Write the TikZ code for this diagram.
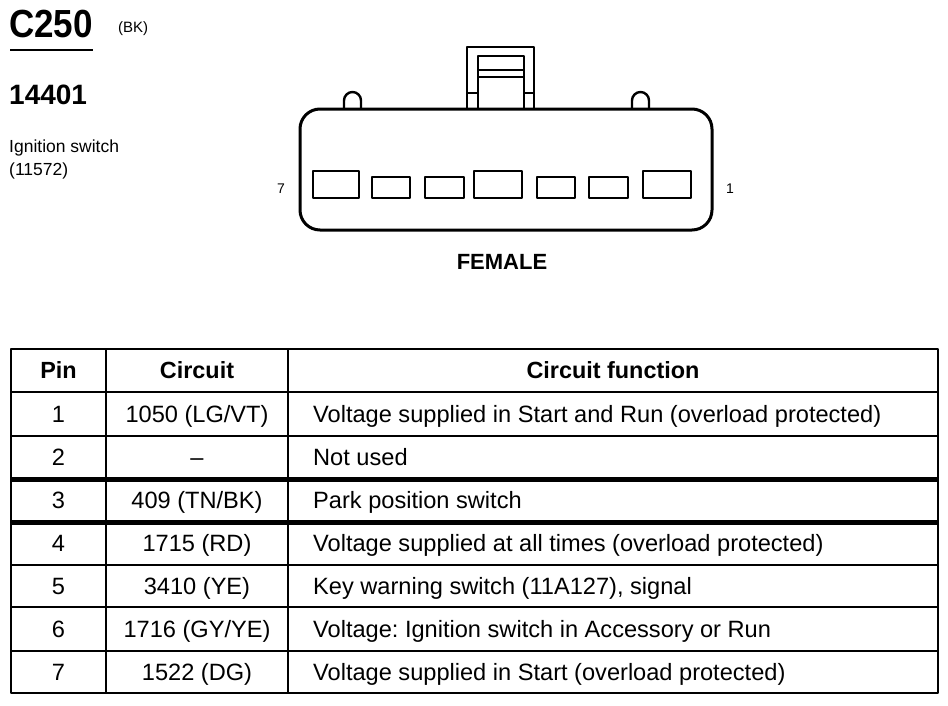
\documentclass[tikz,border=0pt]{standalone}
\usepackage{fontspec}
\setmainfont{Liberation Sans}
\frenchspacing
\begin{document}
\begin{tikzpicture}[x=1pt,y=-1pt,
  line join=round,
  body/.style={line width=3pt},
  latch/.style={line width=2.4pt},
  cavity/.style={line width=2.6pt},
  grid/.style={line width=2.6pt},
  thickgrid/.style={line width=5pt},
  cell/.style={inner sep=0pt, font=\fontsize{23.6}{26}\selectfont, anchor=base},
  head/.style={cell, font=\fontsize{23.4}{26}\selectfont\bfseries},
  lbl/.style={inner sep=0pt, anchor=base west},
  pinno/.style={inner sep=0pt, font=\fontsize{14}{16}\selectfont}]
\useasboundingbox (0,0) rectangle (948,705);
\fill[white] (0,0) rectangle (948,705);

% ---- title block ----
\node[lbl, font=\fontsize{35}{38}\selectfont\bfseries] (c250) at (9,37) {\scalebox{1}[1.12]{C250}};
\node[lbl, font=\fontsize{15}{17}\selectfont] (bk) at (118,32) {(BK)};
\coordinate (ulA) at (10,50);
\coordinate (ulB) at (93,50);
\draw[line width=1.5pt] (ulA) -- (ulB);
\node[lbl, font=\fontsize{28}{32}\selectfont\bfseries] (num) at (9,104) {14401};
\node[lbl, font=\fontsize{17.5}{20}\selectfont] (ign) at (9,152) {Ignition switch};
\node[lbl, font=\fontsize{17.5}{20}\selectfont] (ignno) at (9,175) {(11572)};

% ---- connector face ----
% latch
\draw[latch] (467,109) -- (467,47) -- (534,47) -- (534,109);
\draw[latch] (478,109) -- (478,56) -- (524,56) -- (524,109);
\draw[latch] (478,70) -- (524,70);
\draw[latch] (478,77) -- (524,77);
\draw[latch] (467,93) -- (478,93);
\draw[latch] (524,93) -- (534,93);
% bumps
\draw[latch] (344,109) -- (344,100.5) arc[start angle=180,end angle=360,radius=8.5] -- (361,109);
\draw[latch] (632,109) -- (632,100.5) arc[start angle=180,end angle=360,radius=8.5] -- (649,109);
% body
\node[draw, body, fill=white, rounded corners=20pt, minimum width=412pt, minimum height=121pt, inner sep=0pt] (housing) at (506,169.5) {};
% cavities
\draw[cavity] (313,171) rectangle (359,198);
\draw[cavity] (372,177) rectangle (410,198);
\draw[cavity] (425,177) rectangle (464,198);
\draw[cavity] (474,171) rectangle (522,198);
\draw[cavity] (537,177) rectangle (575,198);
\draw[cavity] (589,177) rectangle (628,198);
\draw[cavity] (643,171) rectangle (691,198);
\node[pinno] (p7) at (281,189) {7};
\node[pinno] (p1) at (730,189) {1};
\node[inner sep=0pt, font=\fontsize{22}{24}\selectfont\bfseries] (fem) at (502,262) {FEMALE};

% ---- table ----
\draw[grid] (11,349) rectangle (938,693);
\foreach \yy in {392,436,565,607,651} \draw[grid] (11,\yy) -- (938,\yy);
\foreach \yy in {479,522} \draw[thickgrid] (11,\yy) -- (938,\yy);
\draw[grid] (106,349) -- (106,693);
\draw[grid] (288,349) -- (288,693);

\node[head] (hpin) at (58.5,378.5) {Pin};
\node[head] (hcir) at (197,378.5) {Circuit};
\node[head] (hfun) at (613,378.5) {Circuit function};

\node[cell] (r1a) at (58.5,422) {1};
\node[cell] (r1b) at (197,422) {1050 (LG/VT)};
\node[cell, anchor=base west] (r1c) at (313,422) {Voltage supplied in Start and Run (overload protected)};

\node[cell] (r2a) at (58.5,465) {2};
\node[cell] (r2b) at (197,465) {--};
\node[cell, anchor=base west] (r2c) at (313,465) {Not used};

\node[cell] (r3a) at (58.5,508) {3};
\node[cell] (r3b) at (197,508) {409 (TN/BK)};
\node[cell, anchor=base west] (r3c) at (313,508) {Park position switch};

\node[cell] (r4a) at (58.5,551.5) {4};
\node[cell] (r4b) at (197,551.5) {1715 (RD)};
\node[cell, anchor=base west] (r4c) at (313,551.5) {Voltage supplied at all times (overload protected)};

\node[cell] (r5a) at (58.5,594) {5};
\node[cell] (r5b) at (197,594) {3410 (YE)};
\node[cell, anchor=base west] (r5c) at (313,594) {Key warning switch (11A127), signal};

\node[cell] (r6a) at (58.5,637) {6};
\node[cell] (r6b) at (197,637) {1716 (GY/YE)};
\node[cell, anchor=base west] (r6c) at (313,637) {Voltage: Ignition switch in Accessory or Run};

\node[cell] (r7a) at (58.5,680) {7};
\node[cell] (r7b) at (197,680) {1522 (DG)};
\node[cell, anchor=base west] (r7c) at (313,680) {Voltage supplied in Start (overload protected)};
\end{tikzpicture}
\end{document}
